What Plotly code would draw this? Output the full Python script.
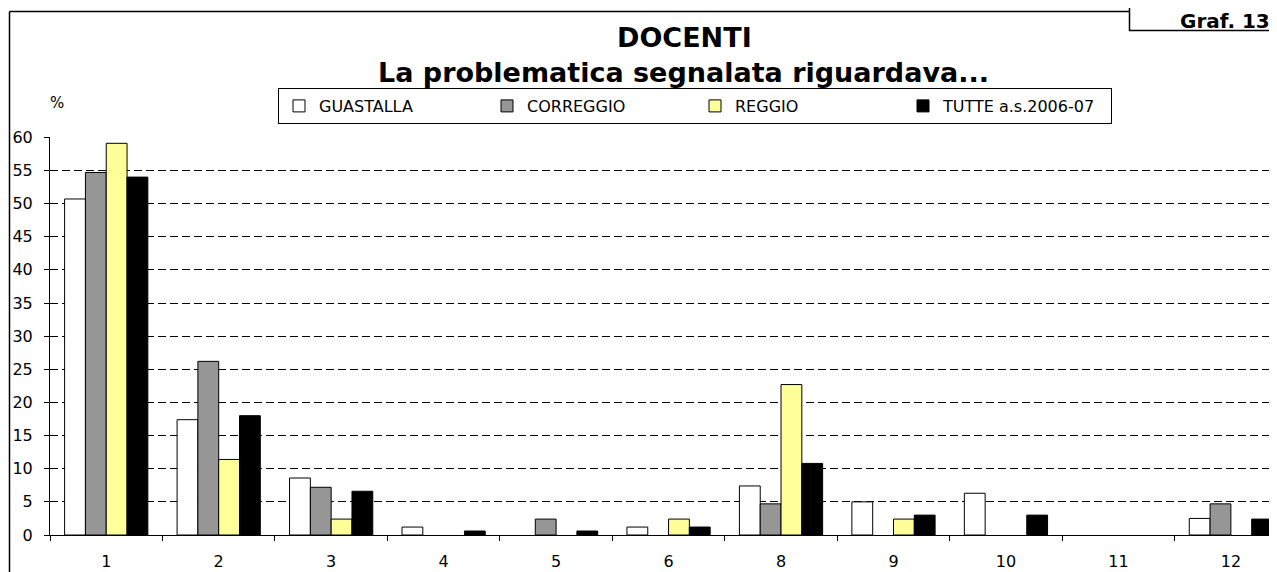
import plotly.graph_objects as go

categories = ["1", "2", "3", "4", "5", "6", "8", "9", "10", "11", "12"]
guastalla = [50.7, 17.4, 8.6, 1.2, 0, 1.2, 7.4, 5.0, 6.3, 0, 2.5]
correggio = [54.7, 26.2, 7.2, 0, 2.4, 0, 4.7, 0, 0, 0, 4.7]
reggio = [59.1, 11.4, 2.4, 0, 0, 2.4, 22.7, 2.4, 0, 0, 0]
tutte = [54.0, 18.0, 6.6, 0.6, 0.6, 1.2, 10.8, 3.0, 3.0, 0, 2.4]

# page has an 8px body margin, so the figure is drawn 8px in from the window corner
OFF = 8
W, H = 1277 - OFF, 572 - OFF
L, R, T, B = 50 - OFF, 0, 137 - OFF, 37
pw, ph = W - L - R, H - T - B


def px(x):
    # window x -> paper x
    return (x - OFF - L) / pw


def py(y):
    # window y -> paper y
    return (H - B - (y - OFF)) / ph


fnt = "DejaVu Sans, Verdana, sans-serif"

fig = go.Figure()
series = [
    ("GUASTALLA", guastalla, "#FFFFFF"),
    ("CORREGGIO", correggio, "#969696"),
    ("REGGIO", reggio, "#FFFF99"),
    ("TUTTE a.s.2006-07", tutte, "#000000"),
]
for name, vals, col in series:
    fig.add_bar(x=categories, y=[v if v else None for v in vals], name=name,
                marker=dict(color=col, line=dict(color="#000000", width=1)))

fig.update_layout(
    width=W, height=H,
    margin=dict(l=L, r=R, t=T, b=B),
    paper_bgcolor="white", plot_bgcolor="white",
    barmode="group", bargap=0.26, bargroupgap=0,
    font=dict(family=fnt, color="black", size=16),
    showlegend=True,
    legend=dict(orientation="h", x=px(278), xanchor="left", y=py(88), yanchor="top",
                bordercolor="black", borderwidth=1, bgcolor="white",
                font=dict(size=16), itemwidth=30, traceorder="normal",
                entrywidth=163, entrywidthmode="pixels", tracegroupgap=0),
)
fig.update_xaxes(type="category", range=[-0.5, 10.41],
                 showline=True, linecolor="black", linewidth=1,
                 ticks="outside", tickson="boundaries", ticklen=5, tickcolor="black",
                 showgrid=False, tickfont=dict(size=16), ticklabelstandoff=12)
fig.update_yaxes(range=[0, 60.05], dtick=5, tick0=0,
                 showline=True, linecolor="black", linewidth=1,
                 ticks="outside", ticklen=5, tickcolor="black",
                 showgrid=True, gridcolor="black", gridwidth=1, griddash="8px,4px",
                 zeroline=False, tickfont=dict(size=16), ticklabelstandoff=8)

# frame lines and "Graf." box
fig.add_shape(type="line", xref="paper", yref="paper",
              x0=px(9.5), x1=px(9.5), y0=py(11.5), y1=py(590),
              line=dict(color="black", width=1.5))
fig.add_shape(type="line", xref="paper", yref="paper",
              x0=px(9.5), x1=px(1129.5), y0=py(11.5), y1=py(11.5),
              line=dict(color="black", width=1.5))
fig.add_shape(type="rect", xref="paper", yref="paper",
              x0=px(1129.5), x1=px(1300), y0=py(30.5), y1=py(-20),
              line=dict(color="black", width=1.5), fillcolor="white")

fig.add_annotation(text="<b>Graf. 13</b>", xref="paper", yref="paper",
                   x=px(1272), y=py(21), xanchor="right", yanchor="middle",
                   showarrow=False, font=dict(size=20))
fig.add_annotation(text="<b>DOCENTI</b>", xref="paper", yref="paper",
                   x=px(684), y=py(38), xanchor="center", yanchor="middle",
                   showarrow=False, font=dict(size=27))
fig.add_annotation(text="<b>La problematica segnalata riguardava...</b>", xref="paper", yref="paper",
                   x=px(683), y=py(72), xanchor="center", yanchor="middle",
                   showarrow=False, font=dict(size=27))
fig.add_annotation(text="%", xref="paper", yref="paper",
                   x=px(57), y=py(103), xanchor="center", yanchor="middle",
                   showarrow=False, font=dict(size=15))

fig.write_html("out.html")
